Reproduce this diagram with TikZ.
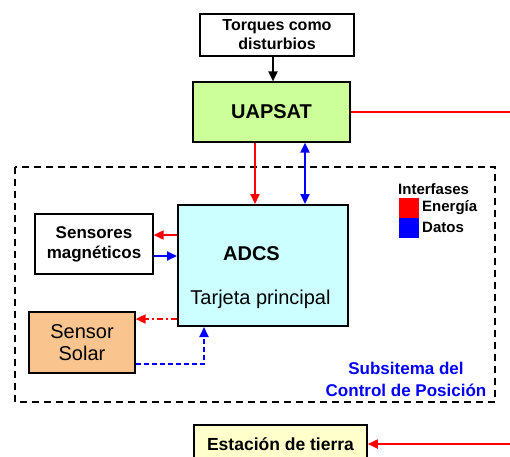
\documentclass[tikz,border=0pt]{standalone}
\usepackage{fontspec}
\setmainfont{Liberation Sans}
\usetikzlibrary{arrows.meta}
\definecolor{verdeuap}{RGB}{204,255,153}
\definecolor{cianadcs}{RGB}{204,255,255}
\definecolor{naranjasol}{RGB}{250,196,143}
\definecolor{amarillotierra}{RGB}{255,255,204}
\tikzset{
caja/.style={draw, line width=1.2pt, align=center, inner sep=0pt},
flecha/.style={line width=1.8pt, -{Triangle[length=10pt,width=9pt]}},
}
\begin{document}
\begin{tikzpicture}[x=1pt,y=-1pt]
\useasboundingbox (0,0) rectangle (510,456);
\clip (0,0) rectangle (510,456);
% the boxes
\node[caja, minimum width=154pt, minimum height=42pt, font=\bfseries\fontsize{16}{19}\selectfont] (torq) at (277,35) {Torques como\\disturbios};
\node[caja, fill=verdeuap, minimum width=157pt, minimum height=60pt, font=\bfseries\fontsize{20}{24}\selectfont] (uapsat) at (271.5,112) {UAPSAT};
\node[caja, fill=cianadcs, line width=2pt, minimum width=170pt, minimum height=121pt] (adcs) at (263,265.5) {};
\node[anchor=base, font=\bfseries\fontsize{20}{24}\selectfont] (adcstxt) at (251.5,260) {ADCS};
\node[anchor=base, font=\fontsize{20}{24}\selectfont] (tarjeta) at (260.5,304) {Tarjeta principal};
\node[caja, minimum width=118pt, minimum height=60pt, font=\bfseries\fontsize{17}{20}\selectfont] (mag) at (94,244) {Sensores\\magnéticos};
\node[caja, fill=naranjasol, minimum width=106pt, minimum height=61pt, font=\fontsize{20}{22}\selectfont] (solar) at (82,342.5) {Sensor\\Solar};
\node[caja, fill=amarillotierra, line width=1.6pt, minimum width=173pt, minimum height=38pt, font=\bfseries\fontsize{17.5}{20}\selectfont] (tierra) at (280.5,444) {Estación de tierra};
% dashed subsystem frame
\draw[line width=1.8pt, dash pattern=on 7pt off 5pt] (15,167) rectangle (495,402);
\node[blue, font=\bfseries\fontsize{17}{22}\selectfont, align=center] (subsis) at (406,379) {Subsitema del\\Control de Posición};
% legend
\node[anchor=base west, font=\bfseries\fontsize{15}{18}\selectfont, inner sep=0pt] (interf) at (398,194) {Interfases};
\foreach \c/\texto/\y in {red/Energía/198,blue/Datos/218}
\fill[\c] (399,\y) rectangle ++(20,19.5) node[black, anchor=west, inner sep=0pt, font=\bfseries\fontsize{15}{18}\selectfont, yshift=9.75pt, xshift=3pt] {\texto};
% edit here for the connectors
\coordinate (t1) at (273,0);
\coordinate (r1) at (255,0);
\coordinate (b1) at (305,0);
\coordinate (m1) at (0,235);
\coordinate (m2) at (0,256);
\coordinate (s1) at (0,319);
\coordinate (s2) at (0,364);
\coordinate (s3) at (204,0);
\coordinate (e1) at (510,112);
\coordinate (e2) at (510,444);
\draw[flecha] (torq.south -| t1) -- (uapsat.north -| t1);
\draw[flecha, red] (uapsat.south -| r1) -- (adcs.north -| r1);
\draw[flecha, blue, {Triangle[length=10pt,width=9pt]}-{Triangle[length=10pt,width=9pt]}] (uapsat.south -| b1) -- (adcs.north -| b1);
\draw[line width=1.8pt, red] (uapsat.east) -- (e1);
\draw[flecha, red] (adcs.west |- m1) -- (mag.east |- m1);
\draw[flecha, blue] (mag.east |- m2) -- (adcs.west |- m2);
\draw[flecha, red, dash pattern=on 6pt off 3pt on 2pt off 3pt] (adcs.west |- s1) -- (solar.east |- s1);
\draw[flecha, blue, dash pattern=on 5pt off 3pt] (solar.east |- s2) -| (adcs.south -| s3);
\draw[flecha, red] (e2) -- (tierra.east |- e2);
\end{tikzpicture}
\end{document}
